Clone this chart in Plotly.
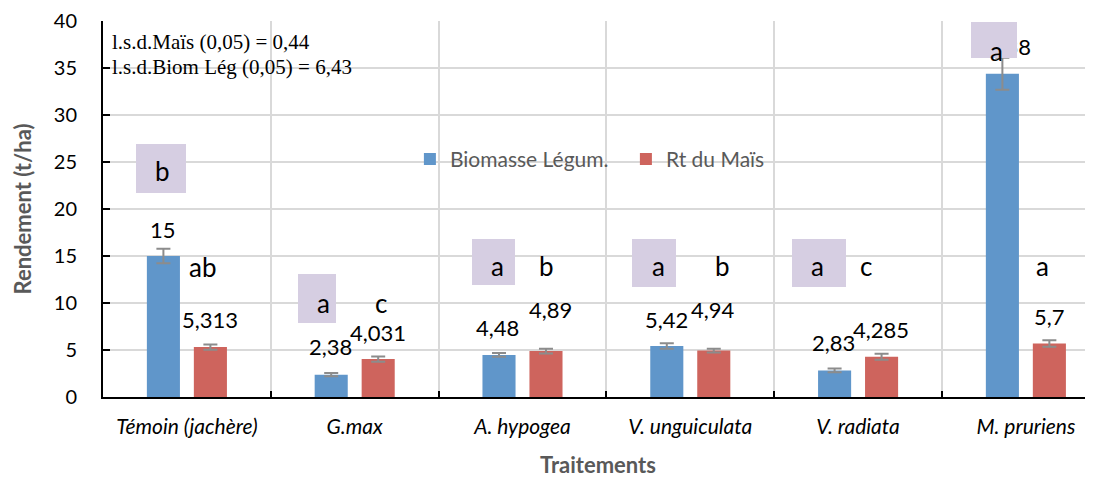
import plotly.graph_objects as go

# ---------------- data ----------------
categories = ["Témoin (jachère)", "G.max", "A. hypogea", "V. unguiculata", "V. radiata", "M. pruriens"]
biomasse = [15, 2.38, 4.48, 5.42, 2.83, 34.38]
biomasse_err = [0.76, 0.17, 0.2, 0.3, 0.2, 1.7]
rt_mais = [5.313, 4.031, 4.89, 4.94, 4.285, 5.7]
rt_mais_err = [0.28, 0.27, 0.25, 0.2, 0.32, 0.35]
lettres_biomasse = ["b", "a", "a", "a", "a", "a"]
lettres_mais = ["ab", "c", "b", "b", "c", "a"]
lsd_texts = ["l.s.d.Maïs (0,05) = 0,44", "l.s.d.Biom Lég (0,05) = 6,43"]

# ---------------- label placement (layout only) ----------------
blue_label_dx = [-0.14, -0.146, -0.147, -0.143, -0.144, -0.137]
blue_label_y = [17.78, 5.32, 7.42, 8.24, 5.75, 37.28]
red_label_dx = [0.136, 0.138, 0.167, 0.138, 0.136, 0.138]
red_label_y = [8.29, 6.91, 9.30, 9.30, 7.18, 8.55]
box_dx = [-0.156, -0.223, -0.171, -0.214, -0.234, -0.190]
box_y = [24.35, 10.43, 14.35, 14.23, 14.23, 37.94]
box_w = [50, 38, 43, 44, 54, 46]
box_h = [49, 49, 46, 48, 48, 36]
blue_letter_dx = [-0.144, -0.187, -0.147, -0.191, -0.243, -0.174]
blue_letter_y = [23.77, 9.67, 13.64, 13.64, 13.64, 36.49]
red_letter_dx = [0.091, 0.156, 0.145, 0.194, 0.047, 0.099]
red_letter_y = [13.48, 9.67, 13.64, 13.64, 13.64, 13.64]

BLUE = "#6096CA"
RED = "#CE645D"
BOX = "#D6CEE2"
SANS = "Lato, 'Open Sans', sans-serif"
SERIF = "'Liberation Serif', 'DejaVu Serif', serif"


def fmt(v):
    s = ("%g" % v)
    return s.replace(".", ",")


fig = go.Figure()
fig.add_trace(go.Bar(
    name="Biomasse Légum.", x=categories, y=biomasse,
    marker=dict(color=BLUE, line=dict(width=0)),
    error_y=dict(type="data", array=biomasse_err, color="#8C8C8C", thickness=2, width=7),
))
fig.add_trace(go.Bar(
    name="Rt du Maïs", x=categories, y=rt_mais,
    marker=dict(color=RED, line=dict(width=0)),
    error_y=dict(type="data", array=rt_mais_err, color="#8C8C8C", thickness=2, width=7),
))

ann = []
# value labels
for i, v in enumerate(biomasse):
    ann.append(dict(x=i + blue_label_dx[i], y=blue_label_y[i], xref="x", yref="y", text=fmt(v),
                    showarrow=False, font=dict(family=SANS, size=22, color="#000000")))
for i, v in enumerate(rt_mais):
    ann.append(dict(x=i + red_label_dx[i], y=red_label_y[i], xref="x", yref="y", text=fmt(v),
                    showarrow=False, font=dict(family=SANS, size=22, color="#000000")))
# shaded boxes
for i in range(len(categories)):
    ann.append(dict(x=i + box_dx[i], y=box_y[i], xref="x", yref="y", text=" ",
                    showarrow=False, bgcolor=BOX, width=box_w[i], height=box_h[i],
                    borderpad=0, borderwidth=0, font=dict(size=4)))
# significance letters
for i, t in enumerate(lettres_biomasse):
    ann.append(dict(x=i + blue_letter_dx[i], y=blue_letter_y[i], xref="x", yref="y", text=t,
                    showarrow=False, yshift=3, font=dict(family=SANS, size=26, color="#000000")))
for i, t in enumerate(lettres_mais):
    ann.append(dict(x=i + red_letter_dx[i], y=red_letter_y[i], xref="x", yref="y", text=t,
                    showarrow=False, yshift=3, font=dict(family=SANS, size=26, color="#000000")))
# l.s.d. texts
for k, t in enumerate(lsd_texts):
    ann.append(dict(x=0.007, y=0.944 - 0.066 * k, xref="paper", yref="paper", text=t,
                    xanchor="left", yanchor="middle", showarrow=False,
                    font=dict(family=SERIF, size=21, color="#000000")))

fig.update_layout(
    width=1085, height=470,
    margin=dict(l=95, r=0, t=11, b=81),
    paper_bgcolor="white", plot_bgcolor="white",
    barmode="group", bargap=0.44, bargroupgap=0.296,
    font=dict(family=SANS, color="#000000"),
    annotations=ann,
    showlegend=True,
    legend=dict(orientation="h", x=0.31, y=0.632, xanchor="left", yanchor="middle",
                bgcolor="rgba(0,0,0,0)", font=dict(family=SANS, size=21, color="#595959"),
                itemwidth=30, entrywidth=171, entrywidthmode="pixels"),
)
fig.update_xaxes(
    type="category", range=[-0.5, 5.4],
    showline=True, linecolor="#000000", linewidth=2,
    showgrid=True, gridcolor="#D9D9D9", gridwidth=2, tickson="boundaries",
    ticks="inside", ticklen=6, tickcolor="#000000", tickwidth=2,
    tickfont=dict(family=SANS, size=21, color="#000000", style="italic"),
    ticklabelstandoff=10,
    title=dict(text="<b>Traitements</b>", font=dict(family=SANS, size=22, color="#595959"), standoff=24),
)
fig.update_yaxes(
    range=[0, 40], dtick=5,
    showline=True, linecolor="#000000", linewidth=2,
    showgrid=True, gridcolor="#D9D9D9", gridwidth=2, zeroline=False,
    ticks="inside", ticklen=7, tickcolor="#000000", tickwidth=2,
    tickfont=dict(family=SANS, size=20, color="#000000"),
    ticklabelstandoff=20, ticklabeloverflow="allow",
    title=dict(text="<b>Rendement (t/ha)</b>", font=dict(family=SANS, size=22, color="#595959"), standoff=16),
)

fig.write_html("out.html")
